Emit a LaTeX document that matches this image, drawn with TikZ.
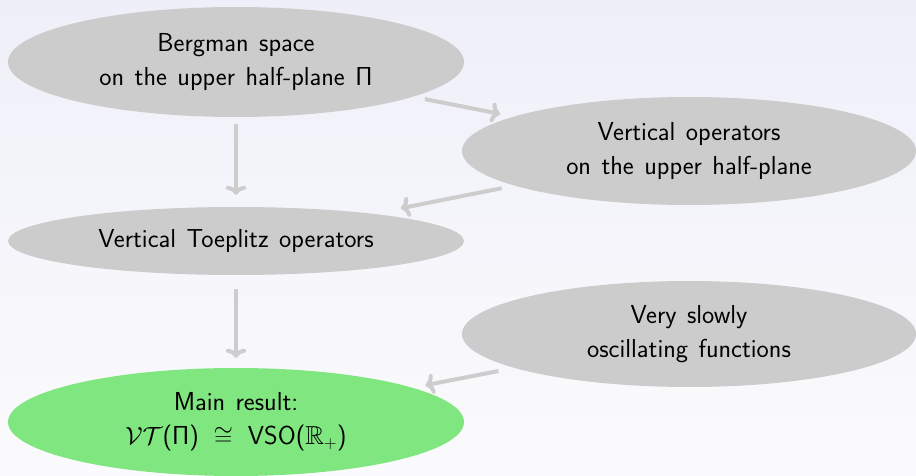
\documentclass[tikz,border=0pt]{standalone}
\usepackage{amssymb}
\usetikzlibrary{shapes.geometric,arrows.meta}
\definecolor{ellgray}{HTML}{CCCCCC}
\definecolor{ellgreen}{HTML}{80E680}
\definecolor{arrgray}{HTML}{CDCDCD}
\definecolor{bgtop}{HTML}{EFEFF9}
\definecolor{bgbot}{HTML}{FBFBFD}
\newcommand{\myellfont}{\sffamily\fontsize{26}{34}\selectfont\spaceskip=10.5pt\relax}
\begin{document}
\begin{tikzpicture}[x=1pt,y=-1pt,
  ell/.style={ellipse, fill=ellgray, inner sep=0pt, align=center, font=\myellfont},
  conn/.style={draw=arrgray, line width=4pt, -{To[length=9pt,width=20pt,round]}}
]
\shade[top color=bgtop,bottom color=bgbot] (0,0) rectangle (916,476);
\useasboundingbox (0,0) rectangle (916,476);
\node[ell, minimum width=456pt, minimum height=110pt] (bergman) at (236,62)
  {Bergman space\\on the upper half-plane Π};
\node[ell, minimum width=454pt, minimum height=108pt] (vertop) at (689,151)
  {Vertical operators\\on the upper half-plane};
\node[ell, minimum width=456pt, minimum height=68pt] (toeplitz) at (236,241)
  {Vertical Toeplitz operators};
\node[ell, minimum width=454pt, minimum height=106pt] (vso) at (689,334)
  {Very slowly\\oscillating functions};
\node[ell, fill=ellgreen, minimum width=456pt, minimum height=108pt] (main) at (236,422)
  {Main result:\\$\mathcal{V}\mathcal{T}$(Π) \,$\cong$\, VSO($\mathbb{R}_+$)};
\draw[conn, shorten <=12pt, shorten >=14pt] (bergman) -- (vertop);
\draw[conn, shorten <=7pt, shorten >=12pt] (bergman) -- (toeplitz);
\draw[conn, shorten <=13pt, shorten >=28pt] (vertop) -- (toeplitz);
\draw[conn, shorten <=14pt, shorten >=10pt] (toeplitz) -- (main);
\draw[conn, shorten <=16pt, shorten >=13pt] (vso) -- (main);
\end{tikzpicture}
\end{document}
